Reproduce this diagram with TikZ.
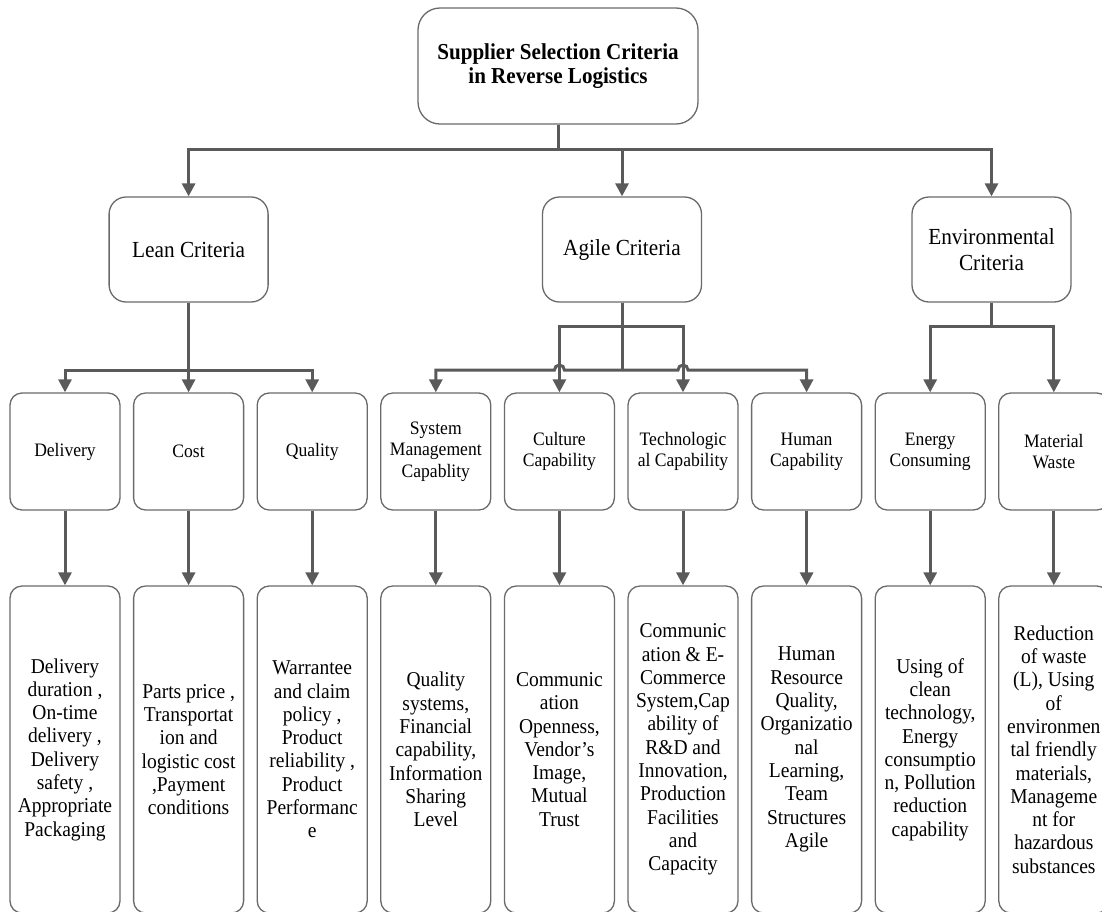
\documentclass[tikz,border=0pt]{standalone}
\usepackage{fontspec}
\setmainfont{Liberation Serif}[FakeStretch=0.925]
\usetikzlibrary{arrows.meta,calc}
\definecolor{lc}{HTML}{5A5A5A}
\definecolor{bc}{HTML}{6A6A6A}
\tikzset{
 box/.style={draw=bc, line width=1.3pt, rounded corners=12pt, align=center, inner sep=0pt, text=black, fill=white},
 topbox/.style={box, rounded corners=22pt, minimum width=280pt, minimum height=116pt, font=\fontsize{22.8}{24.5}\selectfont\bfseries},
 catbox/.style={box, rounded corners=17pt, minimum width=159pt, minimum height=105pt, font=\fontsize{23}{26}\selectfont},
 midbox/.style={box, minimum width=110pt, minimum height=117pt, font=\fontsize{19}{21.3}\selectfont},
 leafbox/.style={box, minimum width=110pt, minimum height=327pt, font=\fontsize{21.1}{23.3}\selectfont},
 conn/.style={draw=lc, line width=3pt},
 arr/.style={conn, -{Triangle[length=13pt,width=13pt]}},
}
\begin{document}
\begin{tikzpicture}[x=1pt,y=-1pt]
\useasboundingbox (0,0) rectangle (1102,911);
\clip (0,0) rectangle (1102,911);

% top
\node[topbox] (title) at (558,66) {Supplier Selection Criteria\\in Reverse Logistics};
% categories
\node[catbox] (lean) at (188.6,249.5) {Lean Criteria};
\node[catbox] (agile) at (622,249.5) {Agile Criteria};
\node[catbox] (env) at (991.5,249.5) {Environmental\\Criteria};

% middle boxes
\node[midbox] (m1) at (65,451.5) {Delivery};
\node[midbox] (m2) at (188.6,451.5) {Cost};
\node[midbox] (m3) at (312.2,451.5) {Quality};
\node[midbox] (m4) at (435.8,451.5) {System\\Management\\Capablity};
\node[midbox] (m5) at (559.4,451.5) {Culture\\Capability};
\node[midbox] (m6) at (683,451.5) {Technologic\\al Capability};
\node[midbox] (m7) at (806.6,451.5) {Human\\Capability};
\node[midbox] (m8) at (930.2,451.5) {Energy\\Consuming};
\node[midbox] (m9) at (1053.8,451.5) {Material\\Waste};

% leaf boxes
\node[leafbox] (b1) at (65,749.5) {Delivery\\duration ,\\On-time\\delivery ,\\Delivery\\safety ,\\Appropriate\\Packaging};
\node[leafbox] (b2) at (188.6,749.5) {Parts price ,\\Transportat\\ion and\\logistic cost\\,Payment\\conditions};
\node[leafbox] (b3) at (312.2,749.5) {Warrantee\\and claim\\policy ,\\Product\\reliability ,\\Product\\Performanc\\e};
\node[leafbox] (b4) at (435.8,749.5) {Quality\\systems,\\Financial\\capability,\\Information\\Sharing\\Level};
\node[leafbox] (b5) at (559.4,749.5) {Communic\\ation\\Openness,\\Vendor’s\\Image,\\Mutual\\Trust};
\node[leafbox] (b6) at (683,749.5) {Communic\\ation \& E-\\Commerce\\System,Cap\\ability of\\R\&D and\\Innovation,\\Production\\Facilities\\and\\Capacity};
\node[leafbox] (b7) at (806.6,749.5) {Human\\Resource\\Quality,\\Organizatio\\nal\\Learning,\\Team\\Structures\\Agile};
\node[leafbox] (b8) at (930.2,749.5) {Using of\\clean\\technology,\\Energy\\consumptio\\n, Pollution\\reduction\\capability};
\node[leafbox] (b9) at (1053.8,749.5) {Reduction\\of waste\\(L), Using\\of\\environmen\\tal friendly\\materials,\\Manageme\\nt for\\hazardous\\substances};

% title to categories
\draw[arr] (title.south) -- ++(0,25) -| (lean.north);
\draw[arr] (title.south) -- ++(0,25) -| (agile.north);
\draw[arr] (title.south) -- ++(0,25) -| (env.north);

% lean branches
\draw[arr] (lean.south) -- ++(0,68) -| (m1.north);
\draw[arr] (lean.south) -- (m2.north);
\draw[arr] (lean.south) -- ++(0,68) -| (m3.north);

% agile branches
\coordinate (jA) at (622,370);
\draw[arr] (agile.south) -- ++(0,24) -| (m5.north);
\draw[arr] (agile.south) -- ++(0,24) -| (m6.north);
\draw[conn] (agile.south) -- (jA);
\draw[arr] (jA) -- ($(m5.north |- jA)+(5,0)$) arc[start angle=0, end angle=-180, radius=5] -- (m4.north |- jA) -- (m4.north);
\draw[arr] (jA) -- ($(m6.north |- jA)+(-5,0)$) arc[start angle=180, end angle=360, radius=5] -- (m7.north |- jA) -- (m7.north);

% environmental branches
\draw[arr] (env.south) -- ++(0,24) -| (m8.north);
\draw[arr] (env.south) -- ++(0,24) -| (m9.north);

% middle to leaves
\foreach \i in {1,...,9}{
  \draw[arr] (m\i.south) -- (b\i.north);
}
\end{tikzpicture}
\end{document}
